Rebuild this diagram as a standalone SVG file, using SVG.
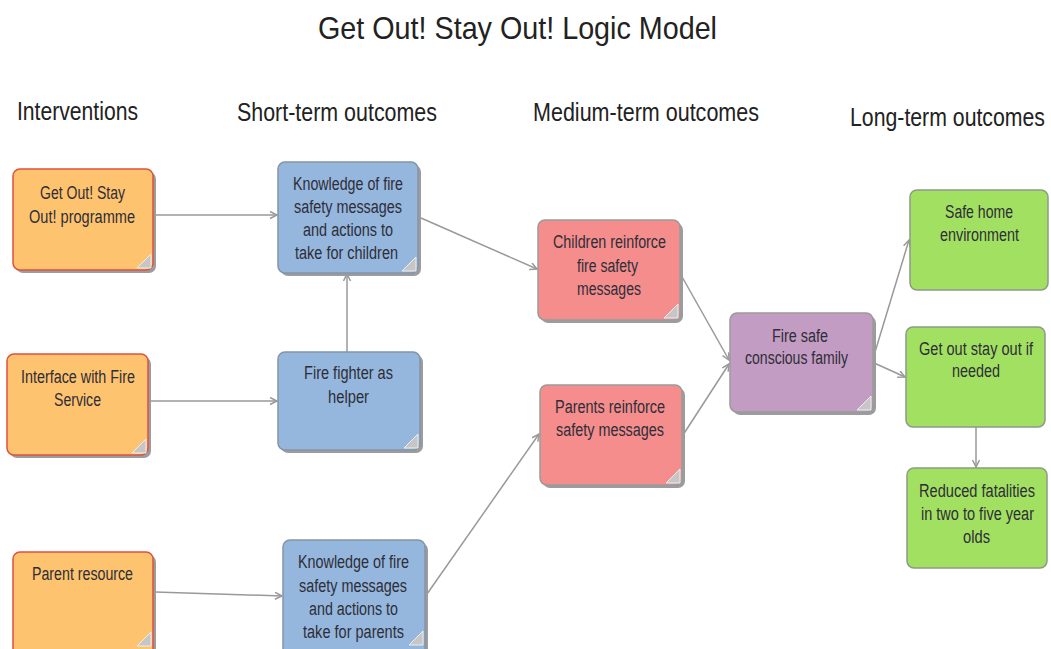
<svg xmlns="http://www.w3.org/2000/svg" width="1051" height="649" viewBox="0 0 1051 649">
<defs>
<style>
.t{font-family:"Liberation Sans",Arial,sans-serif;font-size:18px;fill:#2e2e38}
.h{font-family:"Liberation Sans",Arial,sans-serif;font-size:25px;fill:#222}
.ti{font-family:"Liberation Sans",Arial,sans-serif;font-size:32px;fill:#222}
.sh{fill:#9c9c9c}
.or{fill:#FEC36F;stroke:#DD5140;stroke-width:1.5}
.bl{fill:#95B7DD;stroke:#8494A8;stroke-width:1.5}
.pk{fill:#F58D8D;stroke:#9a9a9a;stroke-width:1.5}
.pu{fill:#C39CC3;stroke:#9a9a9a;stroke-width:1.5}
.gr{fill:#A2E061;stroke:#8d9a88;stroke-width:1.5}
.fold{fill:#c6c6c6;stroke:#eeeeee;stroke-width:1}
.c{fill:none;stroke:#999;stroke-width:1.5}
</style>
<marker id="arr" markerWidth="10" markerHeight="10" refX="8" refY="4" orient="auto" markerUnits="userSpaceOnUse">
<path d="M1,0.5 L8,4 L1,7.5" fill="none" stroke="#999" stroke-width="1.5"/>
</marker>
</defs>
<rect width="1051" height="649" fill="#fff"/>
<text class="ti" x="318" y="39" textLength="399" lengthAdjust="spacingAndGlyphs">Get Out! Stay Out! Logic Model</text>
<g id="headings">
<text class="h" x="17" y="120" textLength="121" lengthAdjust="spacingAndGlyphs">Interventions</text>
<text class="h" x="237" y="121" textLength="200" lengthAdjust="spacingAndGlyphs">Short-term outcomes</text>
<text class="h" x="533" y="121" textLength="226" lengthAdjust="spacingAndGlyphs">Medium-term outcomes</text>
<text class="h" x="850" y="126" textLength="195" lengthAdjust="spacingAndGlyphs">Long-term outcomes</text>
</g>
<g id="connectors">
<path class="c" marker-end="url(#arr)" d="M155,215 L277,215"/>
<path class="c" marker-end="url(#arr)" d="M150,401 L277,401"/>
<path class="c" marker-end="url(#arr)" d="M155,592 L282,596"/>
<path class="c" marker-end="url(#arr)" d="M347,352 L347,274"/>
<path class="c" marker-end="url(#arr)" d="M421,218 L537,269"/>
<path class="c" marker-end="url(#arr)" d="M427,594 L539,434"/>
<path class="c" marker-end="url(#arr)" d="M681,275 L729,360"/>
<path class="c" marker-end="url(#arr)" d="M683,435 L729,364"/>
<path class="c" marker-end="url(#arr)" d="M872,362 L909,240"/>
<path class="c" marker-end="url(#arr)" d="M872,362 L905,377"/>
<path class="c" marker-end="url(#arr)" d="M976,427 L976,467"/>
</g>
<g id="n1">
<rect class="sh" x="16" y="172" width="140" height="101" rx="7"/>
<rect class="or" x="13" y="169" width="140" height="101" rx="7"/>
<polygon class="fold" points="151,254 151,268 137,268"/>
<text class="t" x="40" y="199" textLength="85" lengthAdjust="spacingAndGlyphs">Get Out! Stay</text>
<text class="t" x="29" y="223" textLength="106" lengthAdjust="spacingAndGlyphs">Out! programme</text>
</g>
<g id="n2">
<rect class="sh" x="10" y="357" width="141" height="101" rx="7"/>
<rect class="or" x="7" y="354" width="141" height="101" rx="7"/>
<polygon class="fold" points="146,439 146,453 132,453"/>
<text class="t" x="21" y="383" textLength="114" lengthAdjust="spacingAndGlyphs">Interface with Fire</text>
<text class="t" x="54" y="406" textLength="47" lengthAdjust="spacingAndGlyphs">Service</text>
</g>
<g id="n3">
<rect class="sh" x="16" y="555" width="140" height="110" rx="7"/>
<rect class="or" x="13" y="552" width="140" height="110" rx="7"/>
<polygon class="fold" points="151,632 151,646 137,646"/>
<text class="t" x="32" y="580" textLength="101" lengthAdjust="spacingAndGlyphs">Parent resource</text>
</g>
<g id="b1">
<rect class="sh" x="281" y="165" width="140" height="111" rx="7"/>
<rect class="bl" x="278" y="162" width="140" height="111" rx="7"/>
<polygon class="fold" points="416,257 416,271 402,271"/>
<text class="t" x="293" y="190" textLength="110" lengthAdjust="spacingAndGlyphs">Knowledge of fire</text>
<text class="t" x="294" y="213" textLength="108" lengthAdjust="spacingAndGlyphs">safety messages</text>
<text class="t" x="303" y="236" textLength="90" lengthAdjust="spacingAndGlyphs">and actions to</text>
<text class="t" x="295" y="259" textLength="103" lengthAdjust="spacingAndGlyphs">take for children</text>
</g>
<g id="b2">
<rect class="sh" x="281" y="355" width="142" height="98" rx="7"/>
<rect class="bl" x="278" y="352" width="142" height="98" rx="7"/>
<polygon class="fold" points="418,434 418,448 404,448"/>
<text class="t" x="304" y="379" textLength="89" lengthAdjust="spacingAndGlyphs">Fire fighter as</text>
<text class="t" x="328" y="403" textLength="41" lengthAdjust="spacingAndGlyphs">helper</text>
</g>
<g id="b3">
<rect class="sh" x="286" y="543" width="142" height="115" rx="7"/>
<rect class="bl" x="283" y="540" width="142" height="115" rx="7"/>
<polygon class="fold" points="423,631 423,645 409,645"/>
<text class="t" x="298" y="568" textLength="111" lengthAdjust="spacingAndGlyphs">Knowledge of fire</text>
<text class="t" x="299" y="592" textLength="108" lengthAdjust="spacingAndGlyphs">safety messages</text>
<text class="t" x="309" y="615" textLength="89" lengthAdjust="spacingAndGlyphs">and actions to</text>
<text class="t" x="303" y="638" textLength="101" lengthAdjust="spacingAndGlyphs">take for parents</text>
</g>
<g id="r1">
<rect class="sh" x="541" y="223" width="142" height="100" rx="7"/>
<rect class="pk" x="538" y="220" width="142" height="100" rx="7"/>
<polygon class="fold" points="678,304 678,318 664,318"/>
<text class="t" x="553" y="248" textLength="113" lengthAdjust="spacingAndGlyphs">Children reinforce</text>
<text class="t" x="577" y="272" textLength="61" lengthAdjust="spacingAndGlyphs">fire safety</text>
<text class="t" x="577" y="295" textLength="64" lengthAdjust="spacingAndGlyphs">messages</text>
</g>
<g id="r2">
<rect class="sh" x="543" y="388" width="142" height="100" rx="7"/>
<rect class="pk" x="540" y="385" width="142" height="100" rx="7"/>
<polygon class="fold" points="680,469 680,483 666,483"/>
<text class="t" x="555" y="413" textLength="110" lengthAdjust="spacingAndGlyphs">Parents reinforce</text>
<text class="t" x="556" y="436" textLength="108" lengthAdjust="spacingAndGlyphs">safety messages</text>
</g>
<g id="p">
<rect class="sh" x="733" y="316" width="143" height="99" rx="7"/>
<rect class="pu" x="730" y="313" width="143" height="99" rx="7"/>
<polygon class="fold" points="871,396 871,410 857,410"/>
<text class="t" x="772" y="342" textLength="56" lengthAdjust="spacingAndGlyphs">Fire safe</text>
<text class="t" x="745" y="364" textLength="103" lengthAdjust="spacingAndGlyphs">conscious family</text>
</g>
<g id="g1">
<rect class="gr" x="910" y="190" width="138" height="100" rx="7"/>
<text class="t" x="945" y="218" textLength="68" lengthAdjust="spacingAndGlyphs">Safe home</text>
<text class="t" x="940" y="241" textLength="79" lengthAdjust="spacingAndGlyphs">environment</text>
</g>
<g id="g2">
<rect class="gr" x="906" y="327" width="139" height="100" rx="7"/>
<text class="t" x="919" y="355" textLength="114" lengthAdjust="spacingAndGlyphs">Get out stay out if</text>
<text class="t" x="952" y="377" textLength="48" lengthAdjust="spacingAndGlyphs">needed</text>
</g>
<g id="g3">
<rect class="gr" x="907" y="468" width="140" height="100" rx="7"/>
<text class="t" x="919" y="497" textLength="116" lengthAdjust="spacingAndGlyphs">Reduced fatalities</text>
<text class="t" x="921" y="520" textLength="113" lengthAdjust="spacingAndGlyphs">in two to five year</text>
<text class="t" x="963" y="543" textLength="27" lengthAdjust="spacingAndGlyphs">olds</text>
</g>
</svg>
